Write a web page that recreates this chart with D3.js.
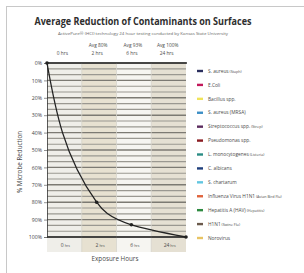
<!DOCTYPE html>
<html><head><meta charset="utf-8">
<script src="https://cdn.jsdelivr.net/npm/d3@7"></script>
<style>html,body{margin:0;padding:0;background:#fff;}svg{display:block;}</style>
</head><body><svg id="c" width="304" height="273"></svg>
<script>
const title = "Average Reduction of Contaminants on Surfaces";
const subtitle = "ActivePure\u00AE (HCI) technology 24 hour testing conducted by Kansas State University";
const hours = ["0 hrs", "2 hrs", "6 hrs", "24 hrs"];
const avgLabels = ["", "Avg 80%", "Avg 93%", "Avg 100%"];
const reduction = [0, 80, 93, 100];
const yTicks = [0, 10, 20, 30, 40, 50, 60, 70, 80, 90, 100];
const columnFills = ["#efeee9", "#e7e1d1", "#f6f5f1", "#e5e0d3"];
const legendNames = ["S. aureus", "E.Coli", "Bacillus spp.", "S. aureus (MRSA)", "Streptococcus spp.", "Pseudomonas spp.", "L. monocytogenes", "C. albicans", "S. chartarum", "Influenza Virus H1N1", "Hepatitis A (HAV)", "H1N1", "Norovirus"];
const legendNotes = ["(Staph)", "", "", "", "(Strep)", "", "(Listeria)", "", "", "(Avian Bird Flu)", "(Hepatitis)", "(Swine Flu)", ""];
const legendColors = ["#2b2f5e", "#c2185b", "#f0e45a", "#3d8fc6", "#5b2b5e", "#8a1c22", "#2a8c84", "#1f3f7c", "#62c6e0", "#e0643c", "#2e8a40", "#6b5a4c", "#e8c464"];

(function () {
const svg = d3.select("#c");
const font = "'Open Sans', sans-serif";

// outer frame
svg.append("rect").attr("x", 6.5).attr("y", 6.5).attr("width", 310).attr("height", 290)
  .attr("fill", "none").attr("stroke", "#c8c8c8").attr("stroke-width", 1);

const pTop = 63, pBottom = 237, pLeft = 47, pRight = 186;
const x = d3.scaleBand().domain(hours).range([pLeft, pRight]).padding(0);
const y = d3.scaleLinear().domain([0, 100]).range([pTop, pBottom]);

// title
svg.append("text").attr("x", 143).attr("y", 25).attr("text-anchor", "middle")
  .attr("font-family", font).attr("font-weight", "bold").attr("font-size", 10.5)
  .attr("fill", "#2e2e2e").attr("textLength", 217).attr("lengthAdjust", "spacingAndGlyphs").text(title);
svg.append("text").attr("x", 143).attr("y", 34.5).attr("text-anchor", "middle")
  .attr("font-family", font).attr("font-size", 3.8).attr("fill", "#666")
  .attr("textLength", 170).attr("lengthAdjust", "spacingAndGlyphs").text(subtitle);

// column backgrounds (plot + bottom label row)
svg.selectAll("rect.col").data(hours).join("rect").attr("class", "col")
  .attr("x", d => x(d)).attr("y", pTop).attr("width", x.bandwidth()).attr("height", 252 - pTop)
  .attr("fill", (d, i) => columnFills[i]);

// grid lines every 10/3 %
const grid = d3.range(0, 100.01, 10 / 3);
svg.selectAll("line.g").data(grid).join("line").attr("class", "g")
  .attr("x1", pLeft).attr("x2", pRight).attr("y1", d => y(d)).attr("y2", d => y(d))
  .attr("stroke", (d, i) => i % 3 === 0 ? "#7c7a73" : "#9a9891")
  .attr("stroke-width", (d, i) => i % 3 === 0 ? 1.4 : 1.15);

// column separators
svg.selectAll("line.v").data(hours.slice(1)).join("line").attr("class", "v")
  .attr("x1", d => x(d)).attr("x2", d => x(d)).attr("y1", pTop).attr("y2", 252)
  .attr("stroke", "#d6d3ca").attr("stroke-width", 0.8);

// top and bottom heavy lines
[0, 100].forEach(v => {
  svg.append("line").attr("x1", pLeft).attr("x2", pRight + 1).attr("y1", y(v)).attr("y2", y(v))
    .attr("stroke", "#2a2a2a").attr("stroke-width", 1.6);
});

// y axis
const yAxis = d3.axisLeft(y).tickValues(yTicks).tickFormat(d => d + "%").tickSize(3).tickPadding(2);
const ya = svg.append("g").attr("transform", `translate(${pLeft},0)`).call(yAxis);
ya.select(".domain").attr("stroke", "#333").attr("stroke-width", 0.8);
ya.selectAll(".tick line").attr("stroke", "#777").attr("stroke-width", 0.8);
ya.selectAll("text").attr("font-family", font).attr("font-size", 5.2).attr("fill", "#444");

// header labels
svg.selectAll("text.avg").data(hours).join("text").attr("class", "avg")
  .attr("x", d => x(d) + x.bandwidth() / 2 - 1).attr("y", 46.5).attr("text-anchor", "middle")
  .attr("font-family", font).attr("font-size", 4.8).attr("fill", "#4a4a4a")
  .text((d, i) => avgLabels[i]);
svg.selectAll("text.hr").data(hours).join("text").attr("class", "hr")
  .attr("x", d => x(d) + x.bandwidth() / 2 - 2).attr("y", 54.5).attr("text-anchor", "middle")
  .attr("font-family", font).attr("font-size", 4.8).attr("fill", "#4a4a4a").text(d => d);

// bottom hour labels
const bl = svg.selectAll("text.bh").data(hours).join("text").attr("class", "bh")
  .attr("x", d => x(d) + x.bandwidth() / 2 + 1).attr("y", 247).attr("text-anchor", "middle")
  .attr("font-family", font).attr("fill", "#4a4a4a");
bl.append("tspan").attr("font-size", 5).text(d => d.split(" ")[0]);
bl.append("tspan").attr("font-size", 3.5).text(d => " " + d.split(" ")[1]);

// curve
const pts = hours.map((h, i) => {
  let px;
  if (i === 0) px = x(h);
  else if (i === hours.length - 1) px = x(h) + x.bandwidth();
  else px = x(h) + x.bandwidth() / 2 - 2.5;
  return [px, y(reduction[i])];
});
svg.append("path").attr("d", d3.line().curve(d3.curveMonotoneY)(pts))
  .attr("fill", "none").attr("stroke", "#222").attr("stroke-width", 1.3);
svg.selectAll("circle.pt").data(pts).join("circle").attr("class", "pt")
  .attr("cx", d => d[0]).attr("cy", d => d[1]).attr("r", 1.8).attr("fill", "#222");

// axis titles
svg.append("text").attr("transform", "translate(22,162) rotate(-90)").attr("text-anchor", "middle")
  .attr("font-family", font).attr("font-size", 6.3).attr("fill", "#4a4a4a").text("% Microbe Reduction");
svg.append("text").attr("x", 115).attr("y", 261).attr("text-anchor", "middle")
  .attr("font-family", font).attr("font-size", 6.3).attr("fill", "#4a4a4a").text("Exposure Hours");

// legend
const ly = d3.scalePoint().domain(d3.range(legendNames.length)).range([71, 238]);
const lg = svg.selectAll("g.lg").data(legendNames).join("g").attr("class", "lg")
  .attr("transform", (d, i) => `translate(197,${ly(i)})`);
lg.append("line").attr("x1", 0).attr("x2", 6).attr("y1", 0).attr("y2", 0)
  .attr("stroke", (d, i) => legendColors[i]).attr("stroke-width", 2.4);
const lt = lg.append("text").attr("x", 11).attr("y", 1.7).attr("font-family", font).attr("fill", "#4a4a4a");
lt.append("tspan").attr("font-size", 4.8).text(d => d);
lt.append("tspan").attr("font-size", 3.7).text((d, i) => legendNotes[i] ? " " + legendNotes[i] : "");
})();
</script></body></html>
